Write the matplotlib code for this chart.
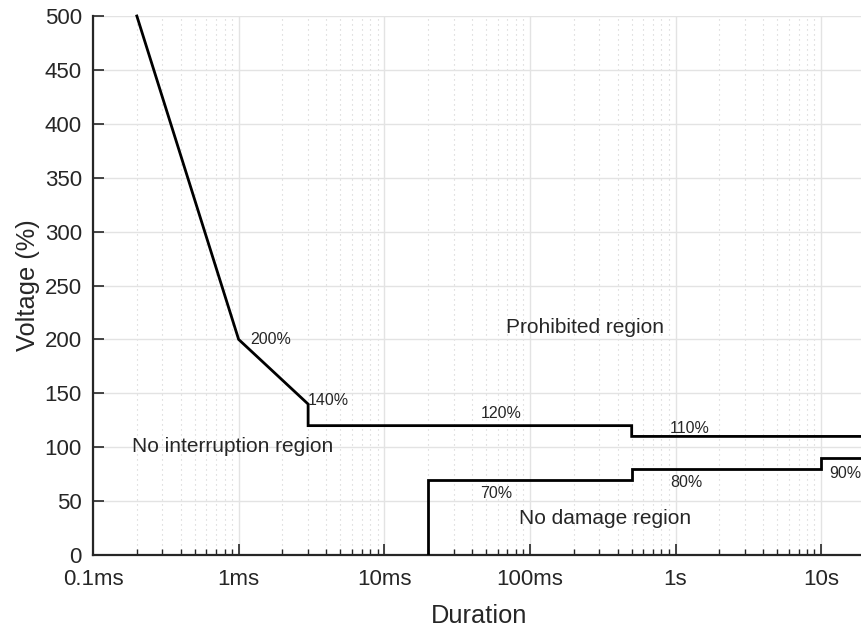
import matplotlib
matplotlib.use("Agg")
import matplotlib.pyplot as plt
from matplotlib.ticker import FixedLocator, LogLocator, NullFormatter

plt.rcParams['font.family'] = ['Liberation Sans', 'DejaVu Sans']

# Upper (prohibited) boundary
upper_t = [0.0002, 0.001, 0.003, 0.003, 0.5, 0.5, 20]
upper_v = [500, 200, 140, 120, 120, 110, 110]
# Lower (no damage) boundary
lower_t = [0.02, 0.02, 0.5, 0.5, 10, 10, 20]
lower_v = [0, 70, 70, 80, 80, 90, 90]

xticks = [1e-4, 1e-3, 1e-2, 1e-1, 1, 10]
xticklabels = ['0.1ms', '1ms', '10ms', '100ms', '1s', '10s']
yticks = list(range(0, 501, 50))

TXT = '#262626'

fig = plt.figure(figsize=(8.62, 6.27), dpi=100)
ax = fig.add_axes([93/862, 1 - 555/627, (865 - 93)/862, (555 - 16)/627])

ax.plot(upper_t, upper_v, color='black', lw=2, solid_joinstyle='miter', clip_on=False, zorder=3)
ax.plot(lower_t, lower_v, color='black', lw=2, solid_joinstyle='miter', zorder=3)

ax.set_xscale('log')
ax.set_xlim(1e-4, 20)
ax.set_ylim(0, 500)

ax.xaxis.set_major_locator(FixedLocator(xticks))
ax.set_xticklabels(xticklabels)
ax.xaxis.set_minor_locator(LogLocator(base=10, subs=range(2, 10), numticks=20))
ax.xaxis.set_minor_formatter(NullFormatter())
ax.set_yticks(yticks)

ax.grid(True, which='major', axis='both', color='#e3e3e3', lw=1, ls='-')
ax.grid(True, which='minor', axis='x', color='#cfcfcf', lw=0.8, ls=(0, (1, 3.5)))
ax.set_axisbelow(True)

for s in ['top', 'right']:
    ax.spines[s].set_visible(False)
for s in ['left', 'bottom']:
    ax.spines[s].set_color(TXT)
    ax.spines[s].set_linewidth(1.6)

ax.tick_params(which='major', direction='in', length=8, width=1.2, colors=TXT, labelsize=16)
ax.tick_params(which='minor', direction='in', length=4, width=1.0, colors=TXT)
ax.tick_params(axis='x', which='major', pad=10)
ax.tick_params(axis='y', which='major', pad=8)

ax.set_xlabel('Duration', fontsize=18.3, color=TXT, labelpad=10)
ax.set_ylabel('Voltage (%)', fontsize=18.3, color=TXT, labelpad=3)

small = dict(fontsize=11.5, color=TXT)
ax.text(0.0012, 200, '200%', ha='left', va='center', **small)
ax.text(0.0030, 143, '140%', ha='left', va='center', **small)
ax.text(0.0634, 131.7, '120%', ha='center', va='center', **small)
ax.text(1.26, 117.8, '110%', ha='center', va='center', **small)
ax.text(0.0586, 57.5, '70%', ha='center', va='center', **small)
ax.text(1.18, 66.8, '80%', ha='center', va='center', **small)
ax.text(11.35, 76, '90%', ha='left', va='center', **small)

big = dict(fontsize=15, color=TXT)
ax.text(0.239, 211.5, 'Prohibited region', ha='center', va='center', **big)
ax.text(0.000915, 101, 'No interruption region', ha='center', va='center', **big)
ax.text(0.326, 34.3, 'No damage region', ha='center', va='center', **big)

fig.savefig('out.png', dpi=100)
